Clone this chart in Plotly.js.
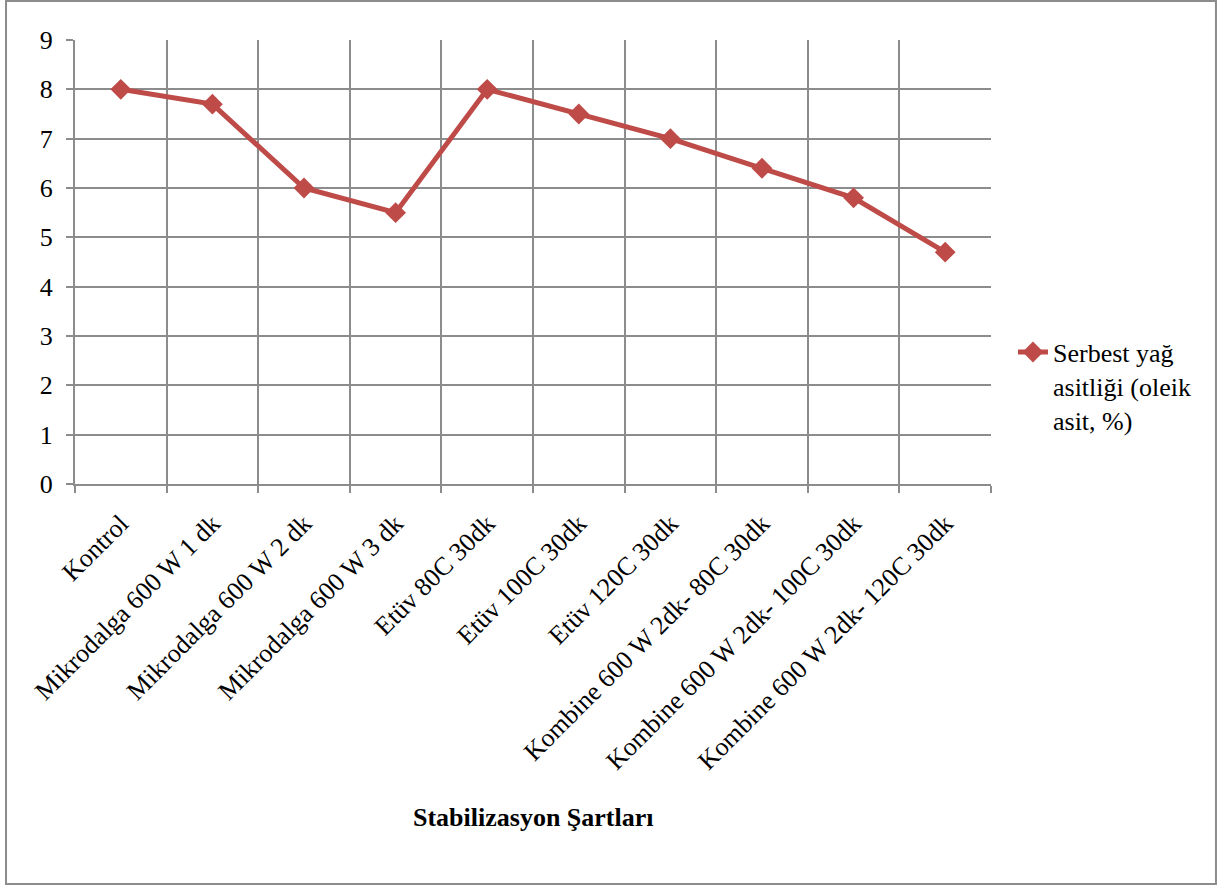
<!DOCTYPE html>
<html>
<head>
<meta charset="utf-8">
<script src="https://cdn.plot.ly/plotly-3.0.1.min.js"></script>
<style>
  html, body { margin: 0; padding: 0; background: #ffffff; }
  #chart { width: 1222px; height: 887px; }
</style>
</head>
<body>
<div id="chart"></div>
<script>
// Stabilization conditions and free fatty acid values (oleic acid, %)
const categories = [
  "Kontrol",
  "Mikrodalga 600 W 1 dk",
  "Mikrodalga 600 W 2 dk",
  "Mikrodalga 600 W 3 dk",
  "Etüv 80C 30dk",
  "Etüv 100C 30dk",
  "Etüv 120C 30dk",
  "Kombine 600 W 2dk- 80C 30dk",
  "Kombine 600 W 2dk- 100C 30dk",
  "Kombine 600 W 2dk- 120C 30dk"
];
const serbestYagAsitligi = [8, 7.7, 6, 5.5, 8, 7.5, 7, 6.4, 5.8, 4.7];
const seriesName = "Serbest yağ<br>asitliği (oleik<br>asit, %)";
const xTitle = "Stabilizasyon Şartları";
const yTicks = [0, 1, 2, 3, 4, 5, 6, 7, 8, 9];

const FONT = "Liberation Serif, Times New Roman, serif";
const GRID = "#8c8c8c";
const tf = { family: FONT, size: 26, color: "#000000" };

const trace = {
  type: "scatter",
  mode: "lines+markers",
  x: categories,
  y: serbestYagAsitligi,
  name: seriesName,
  line: { color: "#be4b48", width: 5 },
  marker: { symbol: "diamond", size: 16, color: "#be4b48" },
  showlegend: true
};

const layout = {
  width: 1222,
  height: 887,
  margin: { l: 75, r: 231, t: 40, b: 403 },
  paper_bgcolor: "#ffffff",
  plot_bgcolor: "#ffffff",
  font: tf,
  showlegend: true,
  xaxis: {
    type: "category",
    categoryorder: "array",
    categoryarray: categories,
    range: [-0.5, categories.length - 0.5],
    tickson: "boundaries",
    ticks: "outside",
    ticklen: 7,
    tickwidth: 2,
    tickcolor: GRID,
    tickangle: -45,
    ticklabelstandoff: 12,
    showgrid: true,
    gridcolor: GRID,
    gridwidth: 2,
    showline: true,
    linecolor: GRID,
    linewidth: 2,
    zeroline: false,
    tickfont: tf,
    automargin: false
  },
  yaxis: {
    range: [0, 9],
    tickvals: yTicks,
    ticks: "outside",
    ticklen: 7,
    tickwidth: 2,
    tickcolor: GRID,
    ticklabelstandoff: 8,
    showgrid: true,
    gridcolor: GRID,
    gridwidth: 2,
    showline: true,
    linecolor: GRID,
    linewidth: 2,
    zeroline: false,
    tickfont: tf,
    automargin: false
  },
  legend: {
    x: 1.024,
    xanchor: "left",
    y: 0.35,
    yanchor: "top",
    valign: "top",
    bgcolor: "rgba(0,0,0,0)",
    font: tf
  },
  annotations: [{
    xref: "paper", yref: "paper",
    x: 0.5, y: -0.752,
    xanchor: "center", yanchor: "middle",
    text: "<b>" + xTitle + "</b>",
    showarrow: false,
    font: tf
  }],
  shapes: [{
    type: "rect",
    xref: "paper", yref: "paper",
    x0: -0.0753, x1: 1.2456,
    y0: -0.9009, y1: 1.0878,
    line: { color: "#8c8c8c", width: 2 },
    fillcolor: "rgba(0,0,0,0)",
    layer: "below"
  }]
};

Plotly.newPlot("chart", [trace], layout, { displayModeBar: false, staticPlot: true });
</script>
</body>
</html>
